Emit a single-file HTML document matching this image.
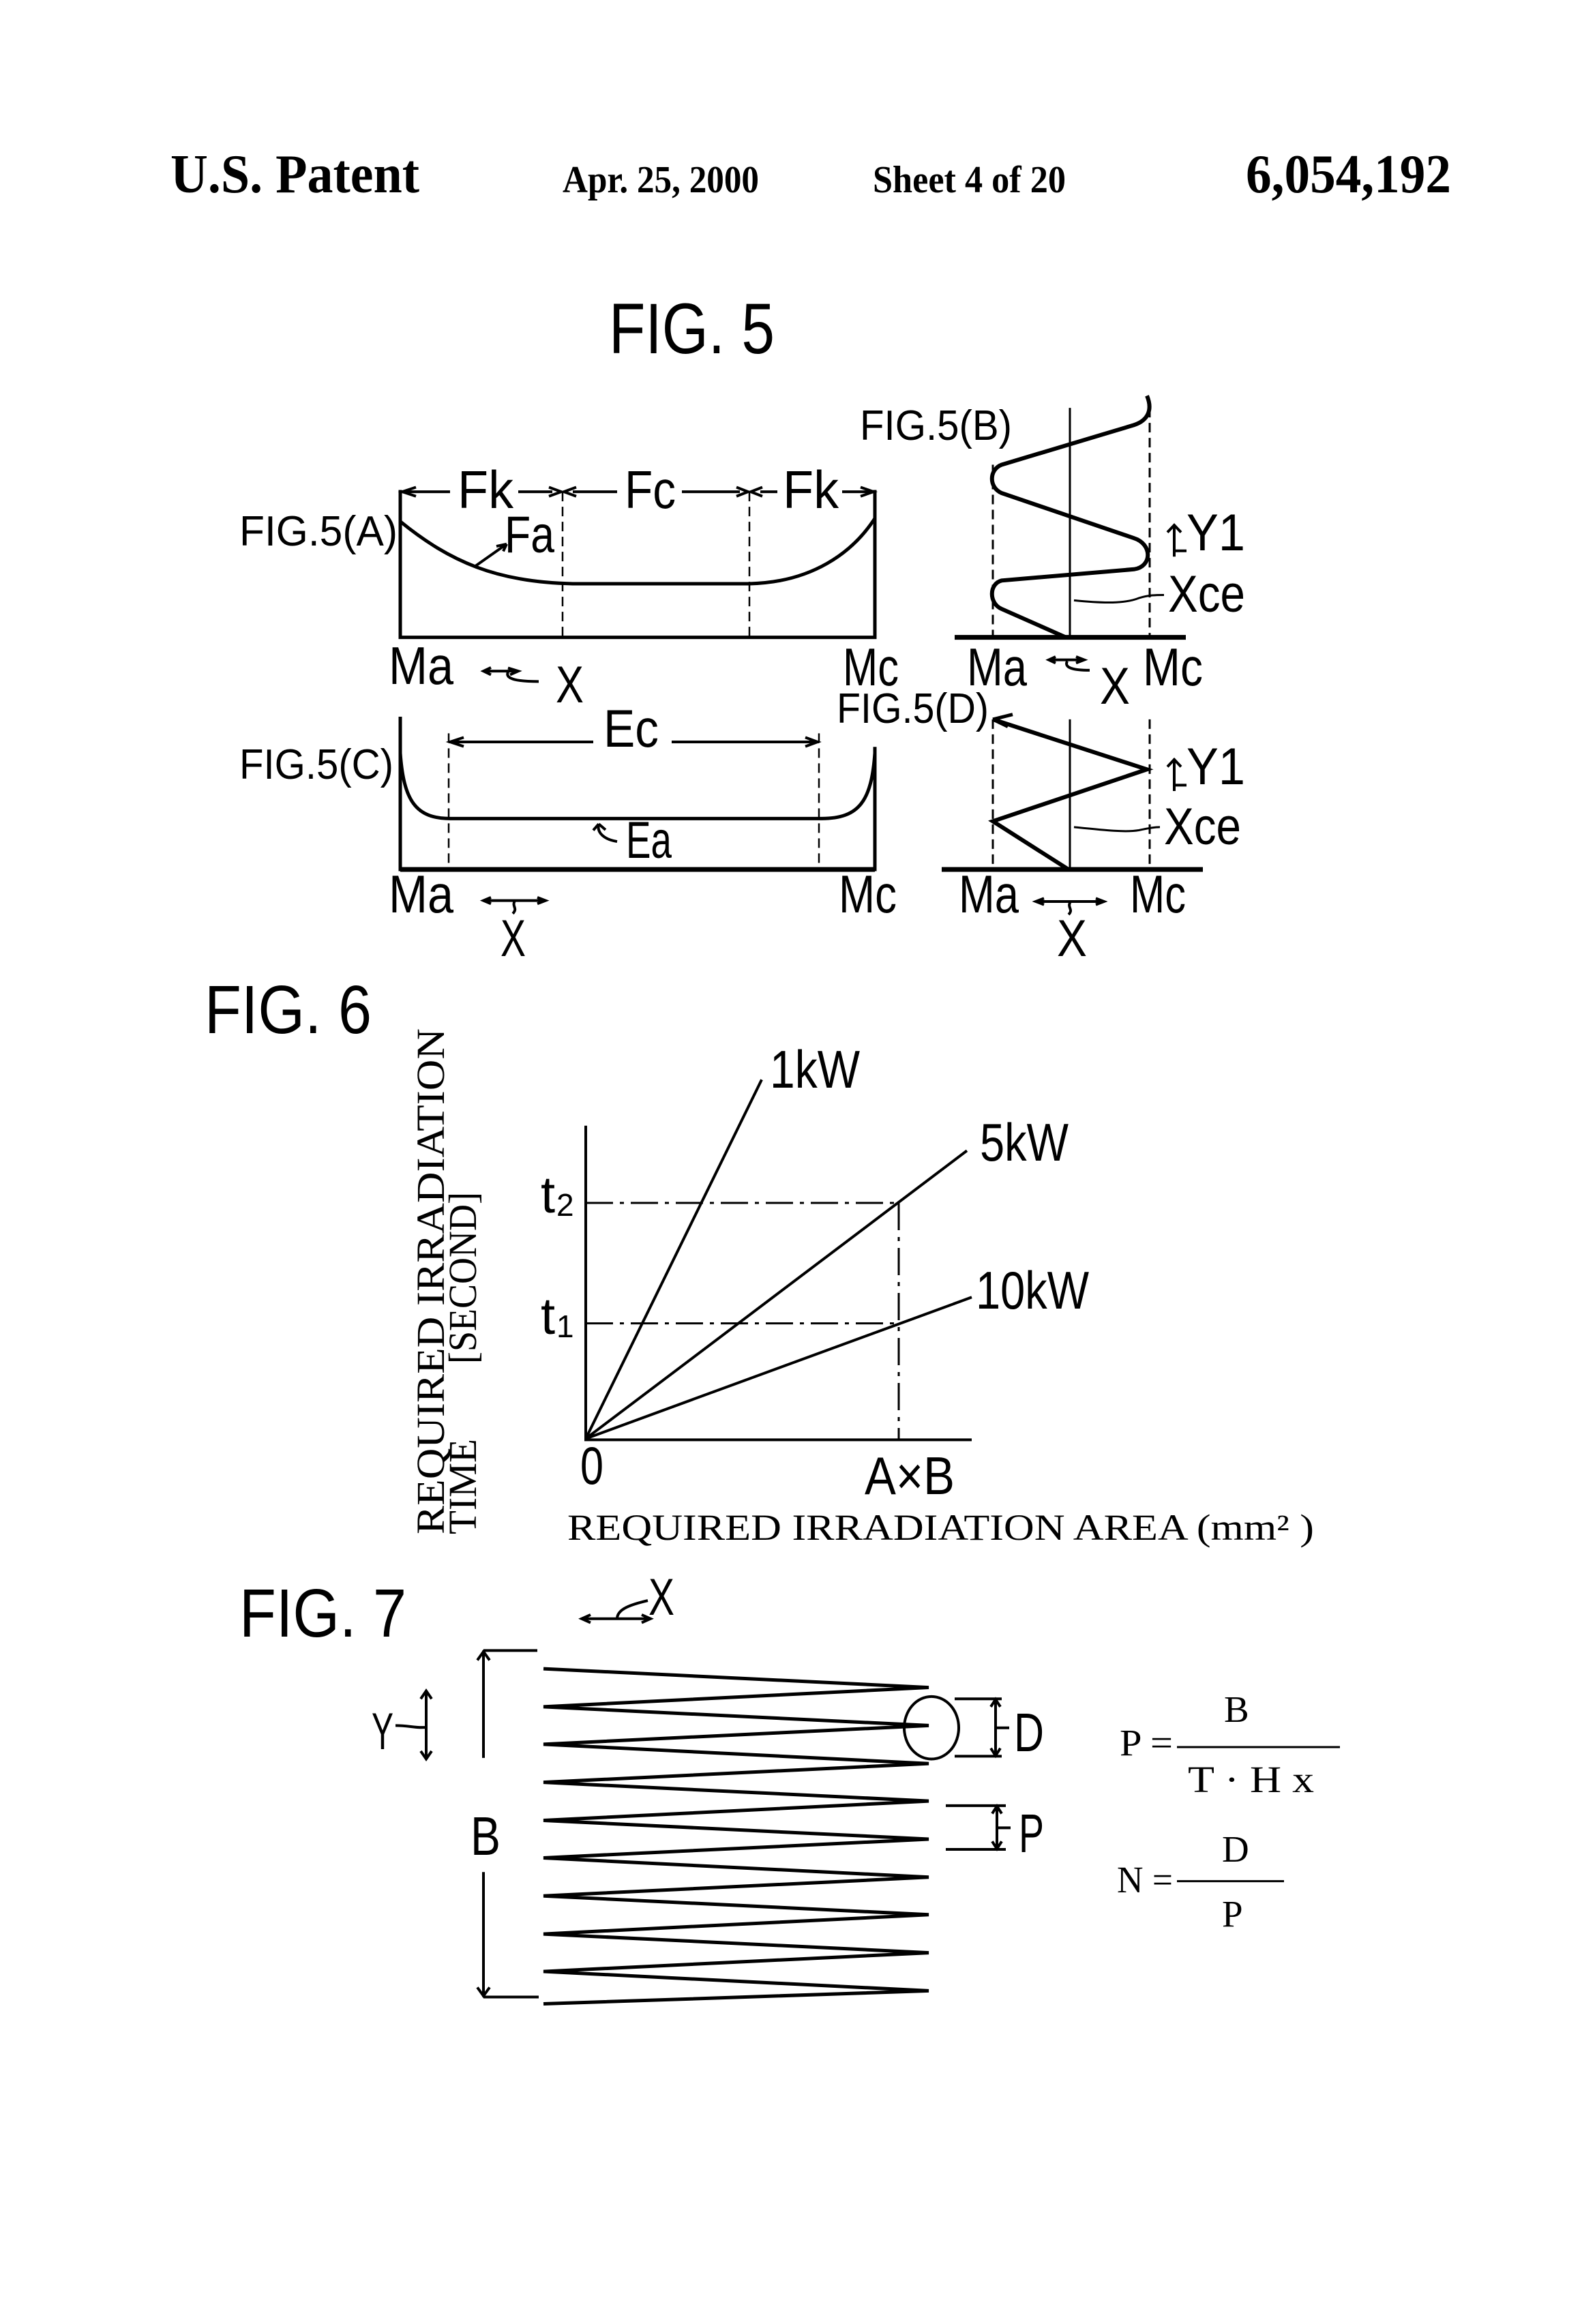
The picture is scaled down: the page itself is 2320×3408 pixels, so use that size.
<!DOCTYPE html>
<html><head><meta charset="utf-8"><style>
html,body{margin:0;padding:0;background:#fff;}
svg{display:block;}
.s{font-family:"Liberation Sans",sans-serif;}
.r{font-family:"Liberation Serif",serif;}
.t *{vector-effect:non-scaling-stroke;}
</style></head><body>
<svg width="2320" height="3408" viewBox="0 0 2320 3408" xmlns="http://www.w3.org/2000/svg">
<rect width="2320" height="3408" fill="#fff"/>
<g fill="#000">
<text class="r" x="250" y="282" font-size="80" font-weight="bold" textLength="365" lengthAdjust="spacingAndGlyphs">U.S. Patent</text>
<text class="r" x="825" y="282" font-size="56" font-weight="bold" textLength="288" lengthAdjust="spacingAndGlyphs">Apr. 25, 2000</text>
<text class="r" x="1280" y="282" font-size="56" font-weight="bold" textLength="283" lengthAdjust="spacingAndGlyphs">Sheet 4 of 20</text>
<text class="r" x="1827" y="282" font-size="80" font-weight="bold" textLength="301" lengthAdjust="spacingAndGlyphs">6,054,192</text>
<text class="s" x="893" y="518" font-size="105" textLength="243" lengthAdjust="spacingAndGlyphs">FIG. 5</text>
</g>

<g class="t" fill="none" stroke="#000" stroke-width="4" transform="translate(0 150) scale(1 0.661) translate(0 -150)">
<path d="M587 1010 V1337 H1283 V1010" stroke-width="5"/>
<path d="M825 1014 V1337 M1099 1014 V1337" stroke-width="2.5" stroke-dasharray="14 8"/>
<path d="M587 1014 H660 M760 1014 H810 M840 1014 H905 M1000 1014 H1085 M1115 1014 H1140 M1235 1014 H1283"/>
<path d="M610 1004 L590 1014 L610 1024 M805 1004 L823 1014 805 1024 M845 1004 L827 1014 845 1024 M1080 1004 L1097 1014 1080 1024 M1118 1004 L1101 1014 1118 1024 M1262 1004 L1281 1014 1262 1024"/>
<path d="M587 1080 C660 1170 730 1215 840 1218 L1099 1218 C1190 1215 1250 1150 1283 1073" stroke-width="5"/>
<path d="M696 1180 L743 1130 M743 1130 L728 1135 M743 1130 L738 1146"/>
<path d="M1569 828 V1337" stroke-width="3"/>
<path d="M1456 954 V1337 M1686 828 V1337" stroke-width="3" stroke-dasharray="14 8"/>
<path d="M1400 1337 H1739" stroke-width="7"/>
<path d="M1682 801 C1690 830 1685 855 1663 866 L1469 954 C1450 965 1450 1005 1469 1017 L1663 1117 C1690 1130 1690 1180 1663 1186 L1469 1211 C1450 1218 1450 1262 1469 1274 L1563 1337" stroke-width="6"/>
<path d="M1575 1255 C1620 1262 1650 1262 1670 1250 C1685 1243 1695 1243 1707 1243" stroke-width="3"/>
<path d="M587 1513 V1852 H1283 V1580" stroke-width="5"/>
<path d="M587 1852 H1283" stroke-width="7"/>
<path d="M658 1550 V1852 M1201 1550 V1852" stroke-width="2.5" stroke-dasharray="14 8"/>
<path d="M658 1569 H870 M985 1569 H1201 M680 1559 L660 1569 680 1579 M1181 1559 L1199 1569 1181 1579"/>
<path d="M587 1594 C592 1700 610 1739 660 1739 L1205 1739 C1260 1739 1278 1700 1283 1594" stroke-width="5"/>
<path d="M878 1751 C875 1770 885 1785 905 1790 M878 1751 L870 1765 M878 1751 L888 1764"/>
<path d="M1569 1519 V1852" stroke-width="3"/>
<path d="M1456 1519 V1852 M1686 1519 V1852" stroke-width="3" stroke-dasharray="14 8"/>
<path d="M1381 1852 H1764" stroke-width="7"/>
<path d="M1456 1519 L1682 1630 L1456 1745 L1567 1852" stroke-width="6"/>
<path d="M1456 1519 L1485 1508 M1456 1519 L1478 1535" stroke-width="5"/>
<path d="M1575 1758 C1620 1765 1650 1770 1670 1765 C1685 1760 1695 1758 1701 1758" stroke-width="3"/>
<path d="M709 1412 H760 M720 1404 L709 1412 720 1420 M745 1405 L760 1412 748 1420 M745 1414 C740 1430 760 1435 790 1435"/>
<path d="M1538 1387 H1590 M1548 1380 L1538 1387 1548 1394 M1578 1380 L1590 1387 1578 1394 M1565 1390 C1560 1405 1575 1410 1598 1410"/>
<path d="M709 1921 H800 M720 1914 L709 1921 720 1928 M788 1914 L800 1921 788 1928 M755 1921 C750 1935 760 1937 752 1950"/>
<path d="M1519 1923 H1619 M1531 1916 L1519 1923 1531 1930 M1607 1916 L1619 1923 1607 1930 M1570 1923 C1564 1937 1575 1940 1567 1952"/>
<path d="M1722 1090 V1158 M1712 1104 L1722 1088 1732 1104 M1722 1145 H1740"/>
<path d="M1722 1610 V1678 M1712 1624 L1722 1608 1732 1624 M1722 1665 H1740"/>
</g>

<g fill="#000">
<text class="s" x="671" y="745" font-size="78" textLength="82" lengthAdjust="spacingAndGlyphs">Fk</text>
<text class="s" x="916" y="745" font-size="78" textLength="75" lengthAdjust="spacingAndGlyphs">Fc</text>
<text class="s" x="1148" y="745" font-size="78" textLength="82" lengthAdjust="spacingAndGlyphs">Fk</text>
<text class="s" x="351" y="800" font-size="62" textLength="232" lengthAdjust="spacingAndGlyphs">FIG.5(A)</text>
<text class="s" x="740" y="810" font-size="76" textLength="73" lengthAdjust="spacingAndGlyphs">Fa</text>
<text class="s" x="570" y="1003" font-size="78" textLength="95" lengthAdjust="spacingAndGlyphs">Ma</text>
<text class="s" x="815" y="1030" font-size="76" textLength="41" lengthAdjust="spacingAndGlyphs">X</text>
<text class="s" x="1236" y="1005" font-size="78" textLength="82" lengthAdjust="spacingAndGlyphs">Mc</text>
<text class="s" x="1261" y="645" font-size="62" textLength="223" lengthAdjust="spacingAndGlyphs">FIG.5(B)</text>
<text class="s" x="1740" y="807" font-size="76" textLength="86" lengthAdjust="spacingAndGlyphs">Y1</text>
<text class="s" x="1713" y="897" font-size="76" textLength="113" lengthAdjust="spacingAndGlyphs">Xce</text>
<text class="s" x="1418" y="1005" font-size="78" textLength="88" lengthAdjust="spacingAndGlyphs">Ma</text>
<text class="s" x="1613" y="1032" font-size="76" textLength="44" lengthAdjust="spacingAndGlyphs">X</text>
<text class="s" x="1676" y="1005" font-size="78" textLength="88" lengthAdjust="spacingAndGlyphs">Mc</text>
<text class="s" x="885" y="1095" font-size="78" textLength="81" lengthAdjust="spacingAndGlyphs">Ec</text>
<text class="s" x="351" y="1142" font-size="62" textLength="226" lengthAdjust="spacingAndGlyphs">FIG.5(C)</text>
<text class="s" x="918" y="1258" font-size="76" textLength="67" lengthAdjust="spacingAndGlyphs">Ea</text>
<text class="s" x="570" y="1338" font-size="78" textLength="95" lengthAdjust="spacingAndGlyphs">Ma</text>
<text class="s" x="734" y="1402" font-size="76" textLength="37" lengthAdjust="spacingAndGlyphs">X</text>
<text class="s" x="1230" y="1338" font-size="78" textLength="85" lengthAdjust="spacingAndGlyphs">Mc</text>
<text class="s" x="1227" y="1060" font-size="62" textLength="223" lengthAdjust="spacingAndGlyphs">FIG.5(D)</text>
<text class="s" x="1740" y="1150" font-size="76" textLength="86" lengthAdjust="spacingAndGlyphs">Y1</text>
<text class="s" x="1707" y="1238" font-size="76" textLength="113" lengthAdjust="spacingAndGlyphs">Xce</text>
<text class="s" x="1406" y="1338" font-size="78" textLength="88" lengthAdjust="spacingAndGlyphs">Ma</text>
<text class="s" x="1550" y="1402" font-size="76" textLength="44" lengthAdjust="spacingAndGlyphs">X</text>
<text class="s" x="1657" y="1338" font-size="78" textLength="82" lengthAdjust="spacingAndGlyphs">Mc</text>
</g>

<!-- FIG 6 -->
<g fill="#000">
<text class="s" x="300" y="1515" font-size="100" textLength="245" lengthAdjust="spacingAndGlyphs">FIG. 6</text>
<text class="r" transform="translate(651 2250) rotate(-90)" font-size="58" textLength="742" lengthAdjust="spacingAndGlyphs">REQUIRED IRRADIATION</text>
<text class="r" transform="translate(698 2250) rotate(-90)" font-size="58" textLength="140" lengthAdjust="spacingAndGlyphs">TIME</text>
<text class="r" transform="translate(698 2000) rotate(-90)" font-size="58" textLength="252" lengthAdjust="spacingAndGlyphs">[SECOND]</text>
<text class="s" x="793" y="1778" font-size="76">t</text><text class="s" x="816" y="1783" font-size="46">2</text>
<text class="s" x="793" y="1956" font-size="76">t</text><text class="s" x="816" y="1961" font-size="46">1</text>
<text class="s" x="1129" y="1595" font-size="78" textLength="132" lengthAdjust="spacingAndGlyphs">1kW</text>
<text class="s" x="1437" y="1702" font-size="78" textLength="130" lengthAdjust="spacingAndGlyphs">5kW</text>
<text class="s" x="1431" y="1919" font-size="78" textLength="166" lengthAdjust="spacingAndGlyphs">10kW</text>
<text class="s" x="851" y="2176" font-size="78" textLength="34" lengthAdjust="spacingAndGlyphs">0</text>
<text class="s" x="1268" y="2191" font-size="78" textLength="132" lengthAdjust="spacingAndGlyphs">A×B</text>
<text class="r" x="832" y="2258" font-size="54" textLength="1095" lengthAdjust="spacingAndGlyphs">REQUIRED  IRRADIATION  AREA (mm² )</text>
</g>
<g class="t" fill="none" stroke="#000" stroke-width="4" transform="translate(0 1400) scale(1 0.833) translate(0 -1400)">
<path d="M859 1701 V2254 H1425"/>
<path d="M859 2252 L1117 1620 M859 2252 L1418 1745 M859 2252 L1425 2003"/>
<path d="M859 1837 H1318 M859 2049 H1318 M1318 1837 V2254" stroke-width="3" stroke-dasharray="40 10 6 10"/>
</g>

<!-- FIG 7 -->
<g fill="#000">
<text class="s" x="351" y="2400" font-size="100" textLength="245" lengthAdjust="spacingAndGlyphs">FIG. 7</text>
<text class="s" x="951" y="2368" font-size="76" textLength="38" lengthAdjust="spacingAndGlyphs">X</text>
<text class="s" x="545" y="2565" font-size="76" textLength="32" lengthAdjust="spacingAndGlyphs">Y</text>
<text class="s" x="690" y="2720" font-size="80" textLength="44" lengthAdjust="spacingAndGlyphs">B</text>
<text class="s" x="1487" y="2568" font-size="80" textLength="44" lengthAdjust="spacingAndGlyphs">D</text>
<text class="s" x="1494" y="2716" font-size="80" textLength="37" lengthAdjust="spacingAndGlyphs">P</text>
<text class="r" x="1642" y="2574" font-size="55" textLength="78" lengthAdjust="spacingAndGlyphs">P =</text>
<text class="r" x="1795" y="2525" font-size="55">B</text>
<text class="r" x="1742" y="2628" font-size="55" textLength="185" lengthAdjust="spacingAndGlyphs">T · H x</text>
<text class="r" x="1638" y="2775" font-size="55" textLength="82" lengthAdjust="spacingAndGlyphs">N =</text>
<text class="r" x="1792" y="2730" font-size="55">D</text>
<text class="r" x="1792" y="2825" font-size="55">P</text>
</g>
<g class="t" fill="none" stroke="#000" stroke-width="4" transform="translate(0 1385) scale(1 0.833) translate(0 -1400)">
<path d="M853 2587 H954 M866 2580 L853 2587 866 2594 M941 2580 L954 2587 941 2594 M905 2587 C905 2570 925 2562 950 2555"/>
<path d="M625 2716 V2832 M617 2728 L625 2714 633 2728 M617 2820 L625 2834 633 2820 M580 2775 C600 2775 610 2780 625 2778"/>
<path d="M709 2643 V2832 M709 3033 V3253 M709 2643 H788 M709 3253 H790 M700 2660 L709 2645 718 2660 M700 3236 L709 3251 718 3236"/>
<path d="M797 2675 L1362 2708 L797 2742 L1362 2775 L797 2808 L1362 2842 L797 2875 L1362 2908 L797 2942 L1362 2975 L797 3008 L1362 3042 L797 3075 L1362 3108 L797 3142 L1362 3175 L797 3208 L1362 3242 L797 3265" stroke-width="5"/>
<ellipse cx="1366" cy="2779" rx="40" ry="55"/>
<path d="M1400 2728 H1469 M1400 2829 H1469 M1460 2728 V2829 M1453 2742 L1460 2729 1467 2742 M1453 2815 L1460 2828 1467 2815 M1460 2779 H1480"/>
<path d="M1387 2916 H1475 M1387 2993 H1475 M1462 2916 V2993 M1455 2930 L1462 2917 1469 2930 M1455 2979 L1462 2992 1469 2979 M1462 2955 H1482"/>
<path d="M1726 2813 H1965 M1726 3049 H1883" stroke-width="3"/>
</g>
</svg>
</body></html>
